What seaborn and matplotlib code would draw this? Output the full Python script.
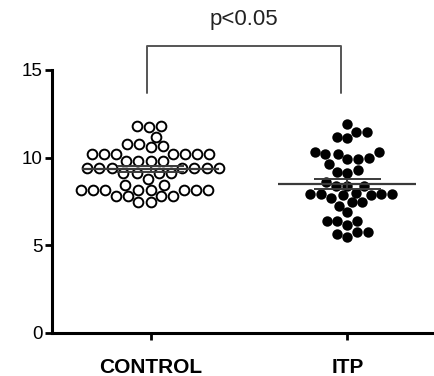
import numpy as np
import pandas as pd
import matplotlib
matplotlib.use("Agg")
import matplotlib.pyplot as plt
import seaborn as sns

# Measured values per group
groups = ["CONTROL", "ITP"]
control = [11.75, 11.8, 11.8, 11.2, 10.8, 10.65, 10.8, 10.6,
           10.2, 10.2, 10.2, 10.2, 10.2, 10.2, 10.2,
           9.8, 9.8, 9.8, 9.8,
           9.4, 9.4, 9.4, 9.4, 9.4, 9.4, 9.4,
           9.1, 9.1, 9.1, 9.1, 8.8, 8.45, 8.45,
           8.15, 8.15, 8.15, 8.15, 8.15, 8.15, 8.15, 8.15,
           7.8, 7.8, 7.8, 7.8, 7.45, 7.45]
itp = [11.9, 11.45, 11.2, 11.1, 11.45,
       10.3, 10.2, 10.35, 10.2,
       9.9, 9.65, 9.9, 10.0,
       9.3, 9.1, 9.2,
       8.4, 8.4, 8.4, 8.6,
       7.9, 7.85, 7.7, 7.9, 8.0, 7.85, 7.9, 7.9,
       7.45, 7.45, 7.25, 6.9,
       6.15, 6.4, 6.4, 6.4,
       5.75, 5.5, 5.65, 5.75]
y_ticks = [0, 5, 10, 15]
p_label = "p<0.05"

df = pd.DataFrame({
    "group": ["CONTROL"] * len(control) + ["ITP"] * len(itp),
    "value": control + itp,
})

sns.set_theme(style="white")
plt.rcParams["font.family"] = ["Liberation Sans", "DejaVu Sans"]

fig = plt.figure(figsize=(4.34, 3.76), dpi=100)
ax = fig.add_axes([0.12, 0.1144, 0.88, 0.6995])

sns.swarmplot(data=df[df.group == "CONTROL"], x="group", y="value",
              order=groups, color="white", edgecolor="black",
              linewidth=1.4, size=7, ax=ax)
sns.swarmplot(data=df[df.group == "ITP"], x="group", y="value",
              order=groups, color="black", edgecolor="black",
              linewidth=0, size=7.5, ax=ax)

# Mean and SEM lines for each group
for i, vals in enumerate([control, itp]):
    v = np.asarray(vals)
    m = v.mean()
    sem = v.std(ddof=1) / np.sqrt(len(v))
    ax.hlines(m, i - 0.35, i + 0.35, color="#3a3a3a", lw=1.6, zorder=4)
    ax.hlines([m - sem, m + sem], i - 0.17, i + 0.17,
              color="#3a3a3a", lw=1.4, zorder=4)
    ax.vlines(i, m - sem, m + sem, color="#3a3a3a", lw=1.4, zorder=4)

ax.set_xlim(-0.5, 1.44)
ax.set_ylim(0, 15)
ax.set_yticks(y_ticks)
ax.set_xlabel("")
ax.set_ylabel("")

for s in ["top", "right"]:
    ax.spines[s].set_visible(False)
for s in ["left", "bottom"]:
    ax.spines[s].set_linewidth(2.2)
    ax.spines[s].set_color("black")

ax.tick_params(axis="y", length=5, width=2, color="black", pad=2,
               labelsize=13.5, labelcolor="black", left=True)
ax.tick_params(axis="x", length=5, width=2, color="black", pad=13,
               labelsize=15, labelcolor="black", bottom=True)
for lab in ax.get_xticklabels():
    lab.set_fontweight("bold")

# Significance bracket
bx0, bx1 = -0.02, 0.97
by_low, by_top = 13.7, 16.35
ax.plot([bx0, bx0, bx1, bx1], [by_low, by_top, by_top, by_low],
        color="#555555", lw=1.4, clip_on=False)
ax.text((bx0 + bx1) / 2, 17.3, p_label, ha="center", va="bottom",
        fontsize=16, color="#222222", clip_on=False)

fig.savefig("out.png", dpi=100)
